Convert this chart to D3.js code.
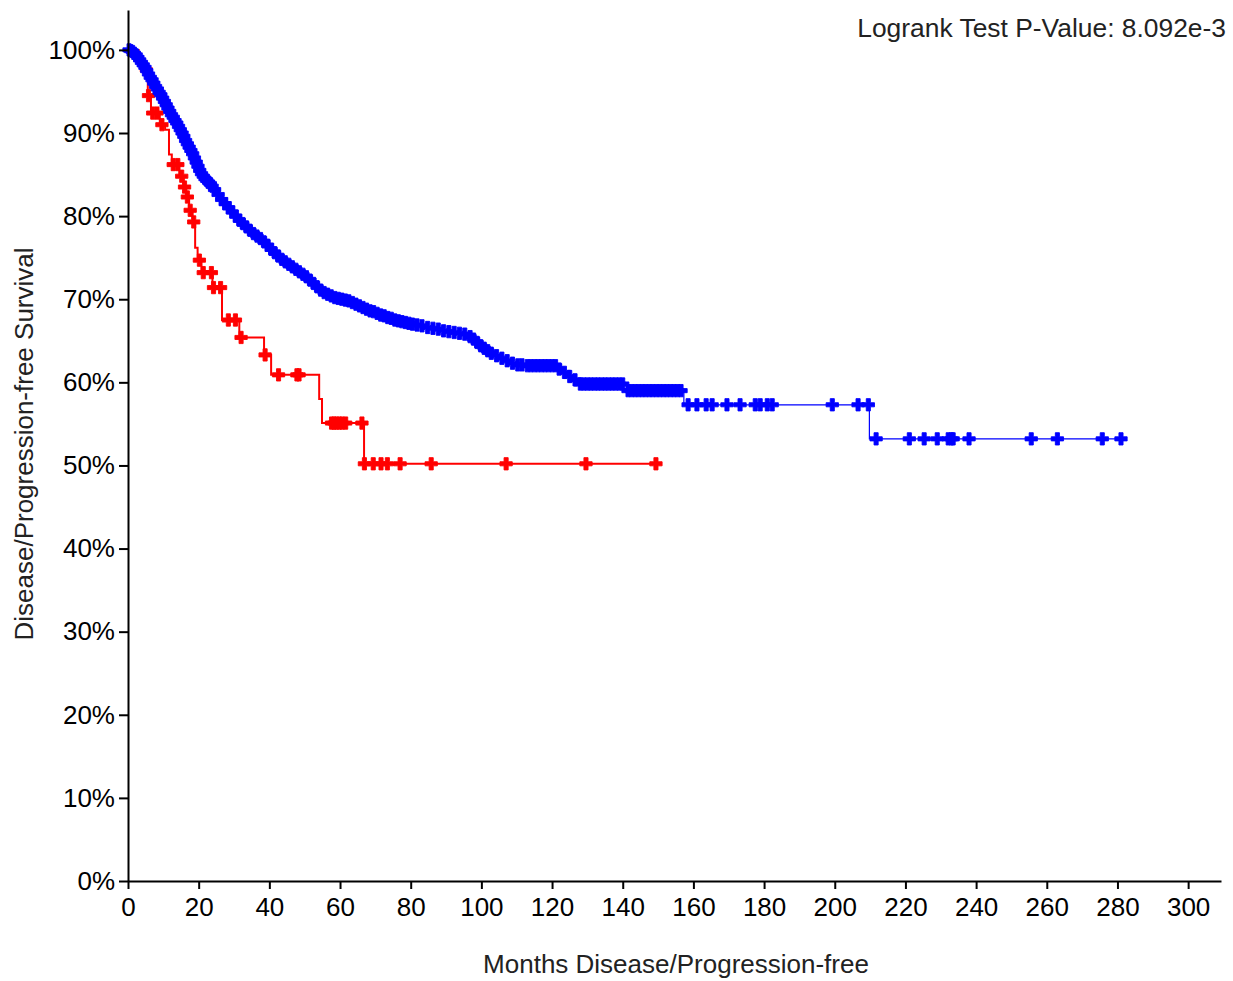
<!DOCTYPE html>
<html>
<head>
<meta charset="utf-8">
<script src="https://cdn.jsdelivr.net/npm/d3@7"></script>
<style>
  html, body { margin: 0; padding: 0; background: #fff; }
  svg text { font-family: "Liberation Sans", Arial, Helvetica, sans-serif; }
</style>
</head>
<body>
<svg id="chart" width="1233" height="981"></svg>
<script>
// Kaplan-Meier step points [months, survival %] for each group
const blueSteps = [
  [0,100],[0.5,99.9],[1,99.8],[1.5,99.6],[2,99.4],[2.5,99.1],[3,98.8],[3.5,98.5],[4,98.2],[4.5,97.9],
  [5,97.5],[5.5,97.1],[6,96.7],[6.5,96.4],[7,96.0],[7.5,95.6],[8,95.3],[8.5,94.9],[9,94.6],[9.5,94.2],
  [10,93.8],[10.5,93.4],[11,93.0],[11.5,92.6],[12,92.2],[12.5,91.9],[13,91.5],[13.5,91.2],[14,90.8],[14.5,90.4],
  [15,90.0],[15.5,89.6],[16,89.1],[16.5,88.7],[17,88.3],[17.5,87.9],[18,87.5],[18.5,87.0],[19,86.5],[19.5,86.0],
  [20,85.5],[20.5,85.1],[21,84.8],[21.5,84.5],[22,84.3],[22.5,84.1],[23,83.9],[23.5,83.6],[24,83.2],[25,82.6],
  [26,82.0],[27,81.5],[28,81.0],[29,80.5],[30,80.0],[31,79.5],[32,79.1],[33,78.7],[34,78.3],[35,77.9],
  [36,77.6],[37,77.3],[38,76.9],[39,76.5],[40,76.0],[41,75.6],[42,75.2],[43,74.8],[44,74.5],[45,74.2],
  [46,73.9],[47,73.6],[48,73.3],[49,73.0],[50,72.7],[51,72.3],[52,71.9],[53,71.5],[54,71.1],[55,70.8],
  [56,70.6],[57,70.4],[58,70.2],[59,70.1],[60,70.0],[61,69.9],[62,69.8],[63,69.6],[64,69.4],[65,69.2],
  [66,69.0],[67,68.8],[68,68.6],[69,68.5],[70,68.3],[71,68.1],[72,68.0],[73,67.8],[74,67.7],[75,67.5],
  [76,67.4],[77,67.3],[78,67.2],[79,67.1],[80,67.0],[81.5,66.9],[83,66.8],[84.5,66.6],[86,66.5],[87.5,66.4],
  [89,66.2],[90.5,66.1],[92,66.0],[93.5,65.9],[95,65.8],[96.5,65.5],[97.5,65.2],[98.5,64.8],[99.5,64.4],[100.5,64.1],
  [101.5,63.8],[102.5,63.5],[104,63.2],[105.5,62.9],[107,62.6],[108.5,62.3],[110,62.1],[112,62.0],[121.5,61.6],[123,61.2],
  [124.5,60.7],[126,60.3],[127.5,59.8],[141.2,59.0],[157.3,57.3],[209.8,53.2]
];
const blueCensored = [
  0.3,0.8,1.3,1.8,2.3,2.8,3.3,3.8,4.3,4.8,5.3,5.8,6.3,6.8,7.3,7.8,8.3,8.8,9.3,9.8,
  10.3,10.8,11.3,11.8,12.3,12.8,13.3,13.8,14.3,14.8,15.3,15.8,16.3,16.8,17.3,17.8,18.3,18.8,19.3,19.8,
  20.3,20.8,21.3,21.8,22.3,22.8,23.3,23.8,24.5,25.5,26.5,27.5,28.5,29.5,30.5,31.5,32.5,33.5,34.5,35.5,
  36.5,37.5,38.5,39.5,40.5,41.5,42.5,43.5,44.5,45.5,46.5,47.5,48.5,49.5,50.5,51.5,52.5,53.5,54.5,55.5,
  56.5,57.5,58.5,59.5,60.5,61.5,62.5,63.5,64.5,65.5,66.5,67.5,68.5,69.5,70.5,71.5,72.5,73.5,74.5,75.5,
  76.5,77.5,78.5,79.5,80.5,81.8,83.2,84.8,86.3,87.8,89.3,90.8,92.3,93.8,95.3,96.8,97.8,98.8,99.8,100.8,
  101.8,102.8,104.3,105.8,107.3,108.8,110.3,111.5,113,114,115,116,117,118,119,120,121,122,123.5,125,
  126.5,128,129,130,131,132,133,134,135,136,137,138,139,140,141.5,142.5,143.5,144.5,145.5,146.5,147.5,148.5,
  149.5,150.5,151.5,152.5,153.5,154.5,155.5,156.5,158.5,161,163.6,165.3,169.5,173.2,177.5,178.9,180.9,182.3,
  199.3,206.6,209.5,211.7,221.1,225.3,229,232.1,233,233.5,238,255.6,263,275.7,281
];
const redSteps = [
  [0,100],[3,98.8],[4.5,97.6],[5.6,94.5],[6.5,92.4],[9,91.0],[10.5,90.4],[11.6,87.4],[12.4,86.2],[14.5,84.8],
  [15.8,83.5],[16.5,82.3],[17.3,80.7],[18.3,79.3],[19.0,76.2],[19.7,74.7],[20.8,73.2],[23.9,71.4],[26.6,67.5],[31.5,65.4],
  [38.5,63.3],[40.5,60.9],[54.1,58.0],[54.9,55.1],[66.8,50.2]
];
const redCensored = [
  5.2,5.8,7.0,8.2,9.6,12.8,14.1,15.2,16.0,16.8,17.6,18.6,20.2,21.3,23.6,24.2,26.2,28.4,30.4,32.0,
  38.8,42.6,47.8,48.4,57.6,58.3,59.0,59.8,60.6,61.6,66.2,66.9,69.4,71.6,73.4,77.0,85.8,107.0,129.6,149.4
];
const xTicks = d3.range(0, 301, 20);
const yTicks = d3.range(0, 101, 10);
const pValueText = "Logrank Test P-Value: 8.092e-3";
const xTitle = "Months Disease/Progression-free";
const yTitle = "Disease/Progression-free Survival";

const svg = d3.select("#chart");
const x = d3.scaleLinear().domain([0, 309.3]).range([128, 1221]);
const y = d3.scaleLinear().domain([0, 104.8]).range([881, 10]);

// survival value in effect at time t for a step list
function survAt(steps, t) {
  let s = steps[0][1];
  for (const [st, sv] of steps) { if (st <= t) s = sv; else break; }
  return s;
}

const line = d3.line().x(d => x(d[0])).y(d => y(d[1])).curve(d3.curveStepAfter);

function drawGroup(steps, censored, color, width) {
  const lastT = Math.max(steps[steps.length - 1][0], d3.max(censored));
  const pts = steps.concat([[lastT, survAt(steps, lastT)]]);
  const g = svg.append("g");
  g.append("path").attr("d", line(pts)).attr("fill", "none")
    .attr("stroke", color).attr("stroke-width", width);
  const sym = d3.symbol().type(d3.symbolCross).size(84);
  g.selectAll("path.c").data(censored).join("path").attr("class", "c")
    .attr("d", sym)
    .attr("transform", t => `translate(${x(t)},${y(survAt(steps, t))})`)
    .attr("fill", color).attr("stroke", color).attr("stroke-width", 0.9);
}

drawGroup(redSteps, redCensored, "#ff0000", 2);
drawGroup(blueSteps, blueCensored, "#0000ff", 1.2);

// axes
const fontSize = 26;
const xAxis = svg.append("g").attr("transform", "translate(0,881)")
  .call(d3.axisBottom(x).tickValues(xTicks).tickSize(8).tickSizeOuter(0).tickPadding(9));
const yAxis = svg.append("g").attr("transform", "translate(128,0)")
  .call(d3.axisLeft(y).tickValues(yTicks).tickSize(9).tickSizeOuter(0).tickPadding(4).tickFormat(d => d + "%"));
[xAxis, yAxis].forEach(a => {
  a.selectAll("path.domain").attr("stroke", "#000").attr("stroke-width", 2);
  a.selectAll(".tick line").attr("stroke", "#000").attr("stroke-width", 2);
  a.selectAll(".tick text").attr("fill", "#000").style("font-size", fontSize + "px")
    .style("font-family", '"Liberation Sans", Arial, sans-serif');
});

svg.append("text").attr("x", 676).attr("y", 973).attr("text-anchor", "middle")
  .style("font-size", fontSize + "px").attr("fill", "#222").text(xTitle);
svg.append("text").attr("transform", "translate(33,444) rotate(-90)").attr("text-anchor", "middle")
  .style("font-size", fontSize + "px").attr("fill", "#222").text(yTitle);
svg.append("text").attr("x", 1226).attr("y", 37).attr("text-anchor", "end")
  .style("font-size", "26.4px").attr("fill", "#222").text(pValueText);
</script>
</body>
</html>
